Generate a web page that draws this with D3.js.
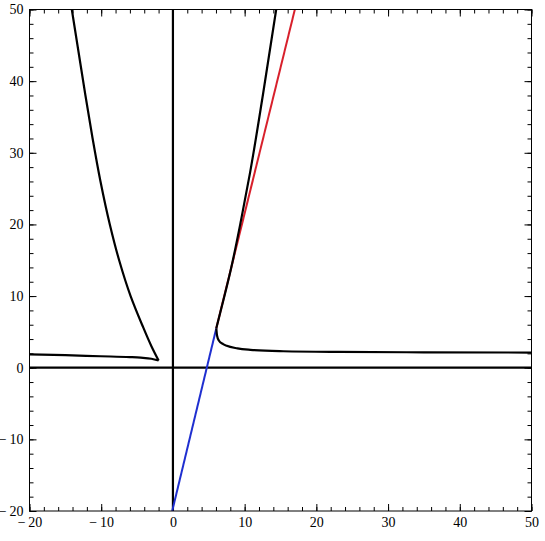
<!DOCTYPE html>
<html>
<head>
<meta charset="utf-8">
<script src="https://cdn.jsdelivr.net/npm/d3@7"></script>
<style>
  body { margin: 0; background: #fff; }
  .tick text { font-family: "Liberation Serif", serif; font-size: 14px; fill: #000; }
  .tick line { stroke: #000; stroke-width: 1; }
  .domain { display: none; }
</style>
</head>
<body>
<svg class="plot"></svg>
<script>
// curve branches as [x, y]
// the two upper branches go up from their cusp, the lower ones go left to right
var leftUpper = [[-2.0, 1.0], [-3.0, 3], [-4.3, 6], [-5.9, 10], [-7.5, 15], [-8.8, 20], [-10.1, 26], [-11.2, 32], [-12.2, 38], [-13.15, 44], [-14.1, 50]];
var leftLower = [[-20, 1.86], [-15, 1.75], [-10.1, 1.6], [-6, 1.48], [-4.5, 1.4], [-3, 1.25], [-2.0, 1.0]];
var rightUpper = [[6.05, 5.5], [6.6, 7.7], [8.05, 13.6], [9.5, 20.6], [10.75, 27.2], [12.55, 38.1], [14.4, 50]];
var rightLower = [[6.05, 5.5], [6.15, 4.5], [6.4, 3.8], [7.0, 3.3], [7.5, 3.05], [9, 2.7], [10.8, 2.5], [15.4, 2.3], [23, 2.2], [35, 2.15], [50, 2.12]];
var redLine = [[6.05, 5.5], [17.0, 50]];
var blueLine = [[-0.1, -20], [6.05, 5.5]];

var majorTicks = [-20, -10, 0, 10, 20, 30, 40, 50];
var minorTicks = d3.range(-20, 51, 2);

(function() {
  var W = 545, H = 541;
  var mLeft = 29.5, mRight = 531.5, mTop = 9.5, mBottom = 511;

  var svg = d3.select("svg.plot")
      .attr("width", W)
      .attr("height", H);

  var x = d3.scaleLinear().domain([-20, 50]).range([mLeft, mRight]);
  var y = d3.scaleLinear().domain([-20, 50]).range([mBottom, mTop]);

  function fmt(d) {
    return d < 0 ? "\u2212\u2009" + Math.abs(d) : String(d);
  }

  svg.append("clipPath").attr("id", "clip")
    .append("rect")
      .attr("x", mLeft).attr("y", mTop)
      .attr("width", mRight - mLeft).attr("height", mBottom - mTop);

  // frame ticks: minor then major, on all four sides, pointing in
  function addAxis(axisFn, scale, transform, vals, size, labels) {
    var a = axisFn(scale).tickValues(vals).tickSize(-size).tickPadding(labels ? 6 : 0)
      .tickFormat(labels ? fmt : "");
    svg.append("g").attr("transform", transform).call(a);
  }
  addAxis(d3.axisBottom, x, "translate(0," + mBottom + ")", minorTicks, 4, false);
  addAxis(d3.axisBottom, x, "translate(0," + mBottom + ")", majorTicks, 7, true);
  addAxis(d3.axisTop, x, "translate(0," + mTop + ")", minorTicks, 4, false);
  addAxis(d3.axisTop, x, "translate(0," + mTop + ")", majorTicks, 7, false);
  addAxis(d3.axisLeft, y, "translate(" + mLeft + ",0)", minorTicks, 4, false);
  addAxis(d3.axisLeft, y, "translate(" + mLeft + ",0)", majorTicks, 7, true);
  addAxis(d3.axisRight, y, "translate(" + mRight + ",0)", minorTicks, 4, false);
  addAxis(d3.axisRight, y, "translate(" + mRight + ",0)", majorTicks, 7, false);

  var plot = svg.append("g").attr("clip-path", "url(#clip)");

  // axes through the origin
  plot.append("line")
    .attr("x1", x(-20)).attr("x2", x(50))
    .attr("y1", y(0)).attr("y2", y(0))
    .attr("stroke", "#000").attr("stroke-width", 2.2);
  plot.append("line")
    .attr("x1", x(0)).attr("x2", x(0))
    .attr("y1", y(-20)).attr("y2", y(50))
    .attr("stroke", "#000").attr("stroke-width", 2.2);

  var lineX = d3.line()
      .x(function(d) { return x(d[0]); })
      .y(function(d) { return y(d[1]); })
      .curve(d3.curveMonotoneX);

  var lineY = d3.line()
      .x(function(d) { return x(d[0]); })
      .y(function(d) { return y(d[1]); })
      .curve(d3.curveMonotoneY);

  plot.append("path").datum(blueLine).attr("d", lineX)
    .attr("fill", "none").attr("stroke", "#1f2fd0").attr("stroke-width", 2);
  plot.append("path").datum(redLine).attr("d", lineX)
    .attr("fill", "none").attr("stroke", "#d8202c").attr("stroke-width", 2);

  function branch(data, gen) {
    plot.append("path").datum(data).attr("d", gen)
      .attr("fill", "none").attr("stroke", "#000").attr("stroke-width", 2.2)
      .attr("stroke-linejoin", "round");
  }
  branch(leftUpper, lineY);
  branch(leftLower, lineX);
  branch(rightUpper, lineY);
  branch(rightLower, lineX);

  svg.append("rect")
    .attr("x", mLeft).attr("y", mTop)
    .attr("width", mRight - mLeft).attr("height", mBottom - mTop)
    .attr("fill", "none").attr("stroke", "#000").attr("stroke-width", 1);
})();
</script>
</body>
</html>
